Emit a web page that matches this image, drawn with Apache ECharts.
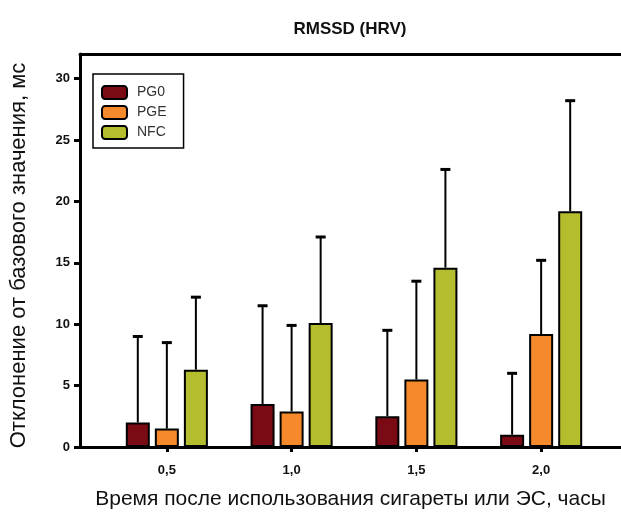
<!DOCTYPE html>
<html>
<head>
<meta charset="utf-8">
<script src="https://cdn.jsdelivr.net/npm/echarts@6/dist/echarts.min.js"></script>
<style>
  html, body { margin: 0; padding: 0; background: #fff; }
  #chart { width: 621px; height: 515px; }
</style>
</head>
<body>
<div id="chart"></div>
<script>
// Hours after use (x positions of the groups) and their printed labels
const hours = [0.5, 1.0, 1.5, 2.0];
const hourLabels = ['0,5', '1,0', '1,5', '2,0'];

// y-axis ticks
const yTicks = [0, 5, 10, 15, 20, 25, 30];
const yTickLabels = ['0', '5', '10', '15', '20', '25', '30'];

// Groups
const groupNames = ['PG0', 'PGE', 'NFC'];

// Mean deviation from baseline, ms
const meanPG0 = [2.0, 3.5, 2.5, 1.0];
const meanPGE = [1.5, 2.9, 5.5, 9.2];
const meanNFC = [6.3, 10.1, 14.6, 19.2];

// Standard deviation (upper whisker only)
const sdPG0 = [7.0, 8.0, 7.0, 5.0];
const sdPGE = [7.0, 7.0, 8.0, 6.0];
const sdNFC = [5.9, 7.0, 8.0, 9.0];

const colors = ['#7a0b14', '#f5892b', '#b3bd2d'];

const means = [meanPG0, meanPGE, meanNFC];
const sds = [sdPG0, sdPGE, sdNFC];

const BAR_W = 24;
const BAR_GAP = 0.21;
const step = BAR_W * (1 + BAR_GAP);

const chart = echarts.init(document.getElementById('chart'), null, { renderer: 'canvas' });

const barSeries = groupNames.map((name, i) => ({
  name: name,
  type: 'bar',
  xAxisIndex: 0,
  yAxisIndex: 0,
  barWidth: BAR_W,
  barGap: (BAR_GAP * 100) + '%',
  itemStyle: { color: colors[i], borderColor: '#000', borderWidth: 2 },
  emphasis: { disabled: true },
  data: hours.map((h, k) => [h, means[i][k]]),
  z: 3
}));

// Upper error whiskers with a cap, placed over each bar
const errSeries = groupNames.map((name, i) => ({
  name: name + ' SD',
  type: 'custom',
  xAxisIndex: 0,
  yAxisIndex: 0,
  silent: true,
  z: 2,
  data: hours.map((h, k) => [h, means[i][k], means[i][k] + sds[i][k]]),
  renderItem: function (params, api) {
    const base = api.coord([api.value(0), api.value(1)]);
    const top = api.coord([api.value(0), api.value(2)]);
    const x = base[0] + (i - 1) * step;
    const cap = 5;
    return {
      type: 'group',
      children: [
        { type: 'line', shape: { x1: x, y1: base[1], x2: x, y2: top[1] },
          style: { stroke: '#000', lineWidth: 2 } },
        { type: 'line', shape: { x1: x - cap, y1: top[1], x2: x + cap, y2: top[1] },
          style: { stroke: '#000', lineWidth: 3 } }
      ]
    };
  }
}));

const option = {
  animation: false,
  backgroundColor: '#fff',
  title: {
    text: 'RMSSD (HRV)',
    left: 345,
    top: 16,
    textAlign: 'center',
    textStyle: { fontFamily: 'Liberation Sans', fontWeight: 'bold', fontSize: 17, color: '#111' }
  },
  legend: {
    data: groupNames,
    orient: 'vertical',
    left: 93,
    top: 74,
    padding: [11, 17, 8, 8],
    itemWidth: 25,
    itemHeight: 13,
    itemGap: 5,
    icon: 'roundRect',
    borderColor: '#000',
    borderWidth: 1.5,
    backgroundColor: '#fff',
    textStyle: { fontFamily: 'Liberation Sans', fontSize: 14, lineHeight: 14, color: '#333', padding: [0, 0, 0, 5] }
  },
  grid: { left: 79, right: 0, top: 54, bottom: 68, containLabel: false },
  xAxis: [
    {
      type: 'value',
      min: 0.152,
      max: 2.32,
      position: 'bottom',
      name: 'Время после использования сигареты или ЭС, часы',
      nameLocation: 'middle',
      nameGap: 42,
      nameTextStyle: { fontFamily: 'Liberation Sans', fontSize: 21, color: '#111' },
      axisLine: { show: true, onZero: false, lineStyle: { color: '#000', width: 3 } },
      axisTick: { show: true, customValues: hours, length: 5, lineStyle: { color: '#000', width: 3 } },
      axisLabel: {
        customValues: hours,
        margin: 17,
        fontFamily: 'Liberation Sans', fontWeight: 'bold', fontSize: 13, color: '#111',
        formatter: function (v) { const k = hours.indexOf(v); return k >= 0 ? hourLabels[k] : ''; }
      },
      splitLine: { show: false }
    },
    {
      type: 'value',
      min: 0.152,
      max: 2.32,
      position: 'top',
      axisLine: { show: true, onZero: false, lineStyle: { color: '#000', width: 3 } },
      axisTick: { show: false },
      axisLabel: { show: false },
      splitLine: { show: false }
    }
  ],
  yAxis: {
    type: 'value',
    min: 0,
    max: 32,
    name: 'Отклонение от базового значения, мс',
    nameLocation: 'middle',
    nameGap: 50,
    nameRotate: 90,
    nameTextStyle: { fontFamily: 'Liberation Sans', fontSize: 22, color: '#111', padding: [0, 10, 0, 0] },
    axisLine: { show: true, lineStyle: { color: '#000', width: 3 } },
    axisTick: { show: true, customValues: yTicks, length: 6, lineStyle: { color: '#000', width: 3 } },
    axisLabel: {
      customValues: yTicks,
      margin: 10,
      fontFamily: 'Liberation Sans', fontWeight: 'bold', fontSize: 13, color: '#111',
      formatter: function (v) { const k = yTicks.indexOf(v); return k >= 0 ? yTickLabels[k] : ''; }
    },
    splitLine: { show: false }
  },
  series: barSeries.concat(errSeries)
};

chart.setOption(option);
</script>
</body>
</html>
